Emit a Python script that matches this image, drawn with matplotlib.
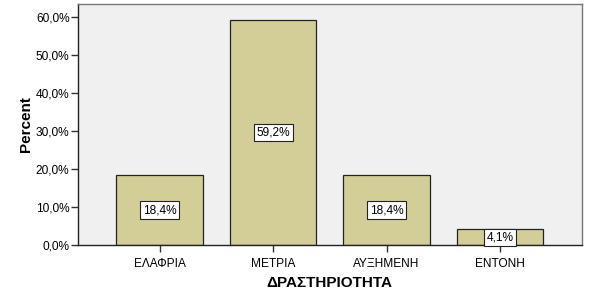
import matplotlib.pyplot as plt
from matplotlib.ticker import FuncFormatter

categories = ['ΕΛΑΦΡΙΑ', 'ΜΕΤΡΙΑ', 'ΑΥΞΗΜΕΝΗ', 'ΕΝΤΟΝΗ']
percents = [18.4, 59.2, 18.4, 4.1]
yticks = [0, 10, 20, 30, 40, 50, 60]

plt.rcParams['font.family'] = ['Liberation Sans', 'DejaVu Sans']

fig = plt.figure(figsize=(5.9, 3.04), dpi=100)
ax = fig.add_axes([0.132, 0.194, 0.854, 0.793])
ax.set_facecolor('#F0F0F0')

x = list(range(len(categories)))
ax.bar(x, percents, width=0.76, color='#D3CE97', edgecolor='#222222', linewidth=0.9, zorder=2)

for xi, p in zip(x, percents):
    ax.text(xi, p / 2, f'{p:.1f}%'.replace('.', ','), ha='center', va='center', fontsize=8.6, zorder=3,
            bbox=dict(boxstyle='square,pad=0.22', facecolor='white', edgecolor='#222222', linewidth=0.8))

ax.set_xlim(-0.72, 3.72)
ax.set_ylim(0, 63.4)
ax.set_yticks(yticks)
ax.yaxis.set_major_formatter(FuncFormatter(lambda v, _: f'{v:.1f}%'.replace('.', ',')))
ax.set_xticks(x)
ax.set_xticklabels(categories)
ax.tick_params(axis='both', labelsize=8.6, direction='out', length=5, width=1, color='#333333')
ax.tick_params(axis='y', pad=1)
ax.tick_params(axis='x', pad=4)

for side in ['left', 'bottom']:
    ax.spines[side].set_color('#222222')
for side in ['top', 'right']:
    ax.spines[side].set_color('#777777')
for s in ax.spines.values():
    s.set_linewidth(1)

ax.set_ylabel('Percent', fontsize=11, fontweight='bold', labelpad=2)
ax.set_xlabel('ΔΡΑΣΤΗΡΙΟΤΗΤΑ', fontsize=11, fontweight='bold', labelpad=5)

fig.savefig('out.png', dpi=100)
